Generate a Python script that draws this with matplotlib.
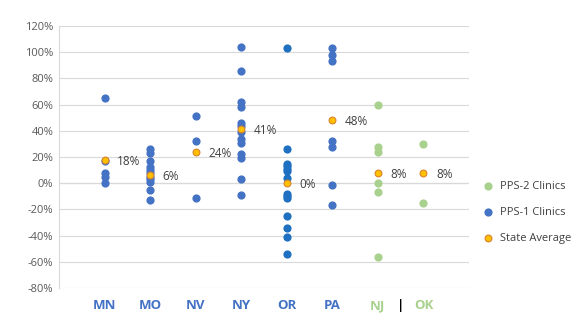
import matplotlib
matplotlib.use("Agg")
import matplotlib.pyplot as plt
from matplotlib.ticker import FuncFormatter

plt.rcParams['font.family'] = ['Open Sans', 'DejaVu Sans']

states = ["MN", "MO", "NV", "NY", "OR", "PA", "NJ", "OK"]

# PPS-1 clinics (blue)
mn = [65, 17, 8, 5, 0]
mo = [26, 23, 17, 12, 10, 8, 5, 3, 1, -5, -13]
nv = [51, 32, -11]
ny = [104, 86, 62, 58, 46, 44, 39, 34, 31, 22, 19, 3, -9]
or_ = [103, 26, 15, 13, 11, 9, 4, -8, -10, -11, -25, -34, -41, -54]
pa = [103, 98, 93, 32, 28, -1, -17]

# PPS-2 clinics (green)
nj = [60, 28, 24, 0, -7, -56]
ok = [30, -15]

state_avg = [18, 6, 24, 41, 0, 48, 8, 8]

blue = "#4472C4"
green = "#A9D18E"
orange = "#FFC000"

fig = plt.figure(figsize=(5.87, 3.32), dpi=100)
ax = fig.add_axes([0.1005, 0.1325, 0.6985, 0.7892])

pps1 = [mn, mo, nv, ny, or_, pa]
for i, vals in enumerate(pps1):
    c = "#1F70C1" if states[i] == "OR" else blue
    ax.scatter([i + 1] * len(vals), vals, s=24, color=c, zorder=3,
               label="PPS-1 Clinics" if i == 0 else None)

for i, vals in enumerate([nj, ok]):
    ax.scatter([i + 7] * len(vals), vals, s=24, color=green, zorder=3,
               label="PPS-2 Clinics" if i == 0 else None)

ax.scatter(range(1, 9), state_avg, s=24, color=orange, edgecolors="#D9822B",
           linewidths=0.8, zorder=4, label="State Average")
for i, v in enumerate(state_avg):
    ax.annotate(f"{v}%", (i + 1, v), xytext=(9, -1), textcoords="offset points",
                va="center", ha="left", fontsize=8.5, color="#404040")

ax.set_xlim(0, 9)
ax.set_ylim(-80, 120)
ax.set_yticks(range(-80, 121, 20))
ax.yaxis.set_major_formatter(FuncFormatter(lambda v, p: f"{int(v)}%"))
ax.tick_params(axis="y", length=0, labelsize=8, labelcolor="#595959", pad=4)
ax.grid(axis="y", color="#D9D9D9", linewidth=0.8, zorder=0)
ax.axhline(0, color="#A6A6A6", linewidth=0.8, zorder=1)

ax.set_xticks(list(range(1, 7)) + [7.5, 7, 8])
ax.set_xticklabels(states[:6] + ["|"] + states[6:])
ax.tick_params(axis="x", length=0, pad=8, labelsize=9.5)
for lbl in ax.get_xticklabels():
    t = lbl.get_text()
    lbl.set_fontweight("bold")
    if t in ("NJ", "OK"):
        lbl.set_color(green)
    elif t == "|":
        lbl.set_color("black")
    else:
        lbl.set_color(blue)

for s in ["top", "right", "bottom"]:
    ax.spines[s].set_visible(False)
ax.spines["left"].set_color("#D9D9D9")

h, l = ax.get_legend_handles_labels()
order = [l.index("PPS-2 Clinics"), l.index("PPS-1 Clinics"), l.index("State Average")]
ax.legend([h[k] for k in order], [l[k] for k in order], loc="center left",
          bbox_to_anchor=(0.995, 0.29), frameon=False, fontsize=8,
          handletextpad=0.05, labelspacing=1.35, labelcolor="#404040",
          markerscale=1.0)

fig.savefig("out.png", dpi=100)
